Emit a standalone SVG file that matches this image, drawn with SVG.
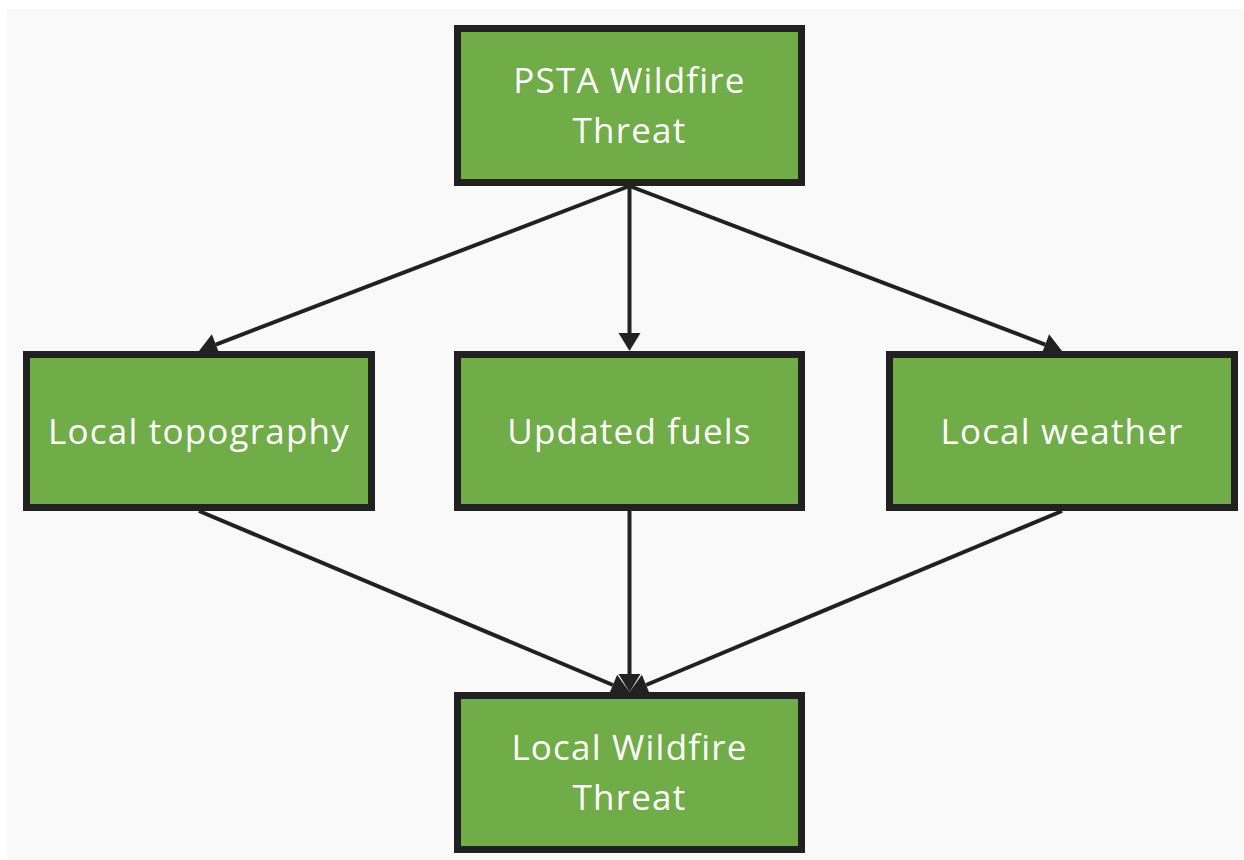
<svg xmlns="http://www.w3.org/2000/svg" width="1244" height="860" viewBox="0 0 1244 860">
  <style>
    .box { fill: #70ac47; stroke: #212121; stroke-width: 7; }
    .label { fill: #ffffff; font-family: "Open Sans", "Liberation Sans", sans-serif; font-size: 35px; letter-spacing: 1.2px; text-anchor: middle; }
    .edge { stroke: #212121; stroke-width: 4; fill: none; marker-end: url(#head); }
  </style>
  <defs>
    <marker id="head" markerUnits="userSpaceOnUse" orient="auto" refX="0" refY="0" markerWidth="20" markerHeight="24" overflow="visible">
      <path d="M0,-11 L18,0 L0,11 z" fill="#212121"/>
    </marker>
  </defs>

  <rect x="0" y="0" width="1244" height="860" fill="#ffffff"/>
  <rect x="7" y="9" width="1237" height="851" fill="#f9f9f9"/>

  <g id="connectors">
    <line class="edge" x1="629.5" y1="186" x2="215.8" y2="344.6"/>
    <line class="edge" x1="629.5" y1="186" x2="629.5" y2="333"/>
    <line class="edge" x1="629.5" y1="186" x2="1045.2" y2="344.6"/>
    <line class="edge" x1="199" y1="511" x2="612.9" y2="685"/>
    <line class="edge" x1="629.5" y1="511" x2="629.5" y2="674"/>
    <line class="edge" x1="1062" y1="511" x2="646.1" y2="685"/>
  </g>

  <g id="psta-threat">
    <rect class="box" x="457.5" y="28.5" width="344" height="154"/>
    <text class="label" x="629.5" y="93">PSTA Wildfire</text>
    <text class="label" x="629.5" y="143">Threat</text>
  </g>

  <g id="local-topography">
    <rect class="box" x="26.5" y="354.5" width="345" height="153"/>
    <text class="label" x="199" y="444">Local topography</text>
  </g>

  <g id="updated-fuels">
    <rect class="box" x="457.5" y="354.5" width="344" height="153"/>
    <text class="label" x="629.5" y="444">Updated fuels</text>
  </g>

  <g id="local-weather">
    <rect class="box" x="889.5" y="354.5" width="345" height="153"/>
    <text class="label" x="1062" y="444">Local weather</text>
  </g>

  <g id="local-threat">
    <rect class="box" x="457.5" y="695.5" width="344" height="154"/>
    <text class="label" x="629.5" y="760">Local Wildfire</text>
    <text class="label" x="629.5" y="810">Threat</text>
  </g>
</svg>
